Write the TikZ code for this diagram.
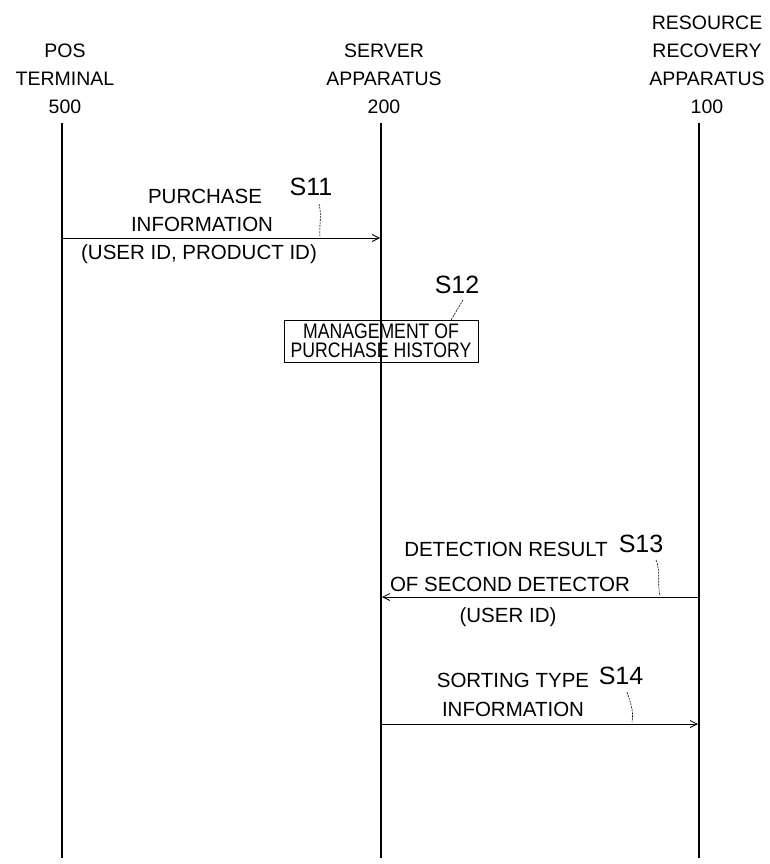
\documentclass[tikz,border=0pt]{standalone}
\usepackage{fontspec}
\setmainfont{Liberation Sans}
\newfontfamily\narrowfont[FakeStretch=0.84]{Liberation Sans}
\usetikzlibrary{arrows.meta}
\begin{document}
\begin{tikzpicture}[x=1pt,y=-1pt,
  txt/.style={font=\fontsize{20.5}{27}\selectfont, inner sep=0pt, anchor=center},
  hdr/.style={font=\fontsize{19.5}{27.8}\selectfont, inner sep=0pt, align=center, anchor=north},
  steplbl/.style={font=\fontsize{25}{26}\selectfont, inner sep=0pt, anchor=center},
  life/.style={line width=1.5pt},
  msg/.style={line width=0.8pt, -{Straight Barb[length=7pt,width=7pt,line width=0.8pt]}},
  leader/.style={line width=0.6pt, dash pattern=on 2pt off 1pt},
  procbox/.style={draw, line width=1pt, minimum width=194pt, minimum height=42pt, inner sep=0pt,
    font=\narrowfont\fontsize{21}{19}\selectfont, align=center}]
\useasboundingbox (0,0) rectangle (770,864);

% headers
\node[hdr] (pos) at (65,44) {POS\\TERMINAL\\500};
\node[hdr] (srv) at (384,44) {SERVER\\APPARATUS\\200};
\node[hdr] (rra) at (707,16) {RESOURCE\\RECOVERY\\APPARATUS\\100};

% lifeline ends
\coordinate (posT) at (62,123);
\coordinate (posB) at (62,858);
\coordinate (srvT) at (381,123);
\coordinate (srvB) at (381,858);
\coordinate (rraT) at (699,123);
\coordinate (rraB) at (699,858);

\draw[life] (posT) -- (posB);
\draw[life] (srvT) -- (srvB);
\draw[life] (rraT) -- (rraB);

% S11
\coordinate (m11a) at (62,238);
\coordinate (m11b) at (380,238);
\draw[msg] (m11a) -- (m11b);
\node[txt] (l11a) at (205,196) {PURCHASE};
\node[txt] (l11b) at (202,224) {INFORMATION};
\node[txt] (l11c) at (199,254) {(USER ID, PRODUCT ID)};
\node[steplbl] (s11) at (311,187) {S11};
\coordinate (s11s) at (319,204);
\coordinate (s11e) at (320,237);
\draw[leader] (s11s) .. controls (322,215) and (319,225) .. (s11e);

% S12
\node[procbox] (box12) at (381,341) {MANAGEMENT OF\\PURCHASE HISTORY};
\node[steplbl] (s12) at (457,285) {S12};
\coordinate (s12s) at (463,300);
\coordinate (s12e) at (451,320);
\draw[leader] (s12s) -- (s12e);

% S13
\coordinate (m13a) at (699,597);
\coordinate (m13b) at (382,597);
\draw[msg] (m13a) -- (m13b);
\node[txt] (l13a) at (506,549) {DETECTION RESULT};
\node[txt] (l13b) at (510,584) {OF SECOND DETECTOR};
\node[txt] (l13c) at (508,617) {(USER ID)};
\node[steplbl] (s13) at (641,544) {S13};
\coordinate (s13s) at (656,560);
\coordinate (s13e) at (660,596);
\draw[leader] (s13s) .. controls (661,572) and (657,584) .. (s13e);

% S14
\coordinate (m14a) at (381,724);
\coordinate (m14b) at (698,724);
\draw[msg] (m14a) -- (m14b);
\node[txt] (l14a) at (513,680) {SORTING TYPE};
\node[txt] (l14b) at (513,709) {INFORMATION};
\node[steplbl] (s14) at (621,676) {S14};
\coordinate (s14s) at (627,692);
\coordinate (s14e) at (632,722);
\draw[leader] (s14s) .. controls (630,702) and (634,710) .. (s14e);
\end{tikzpicture}
\end{document}
